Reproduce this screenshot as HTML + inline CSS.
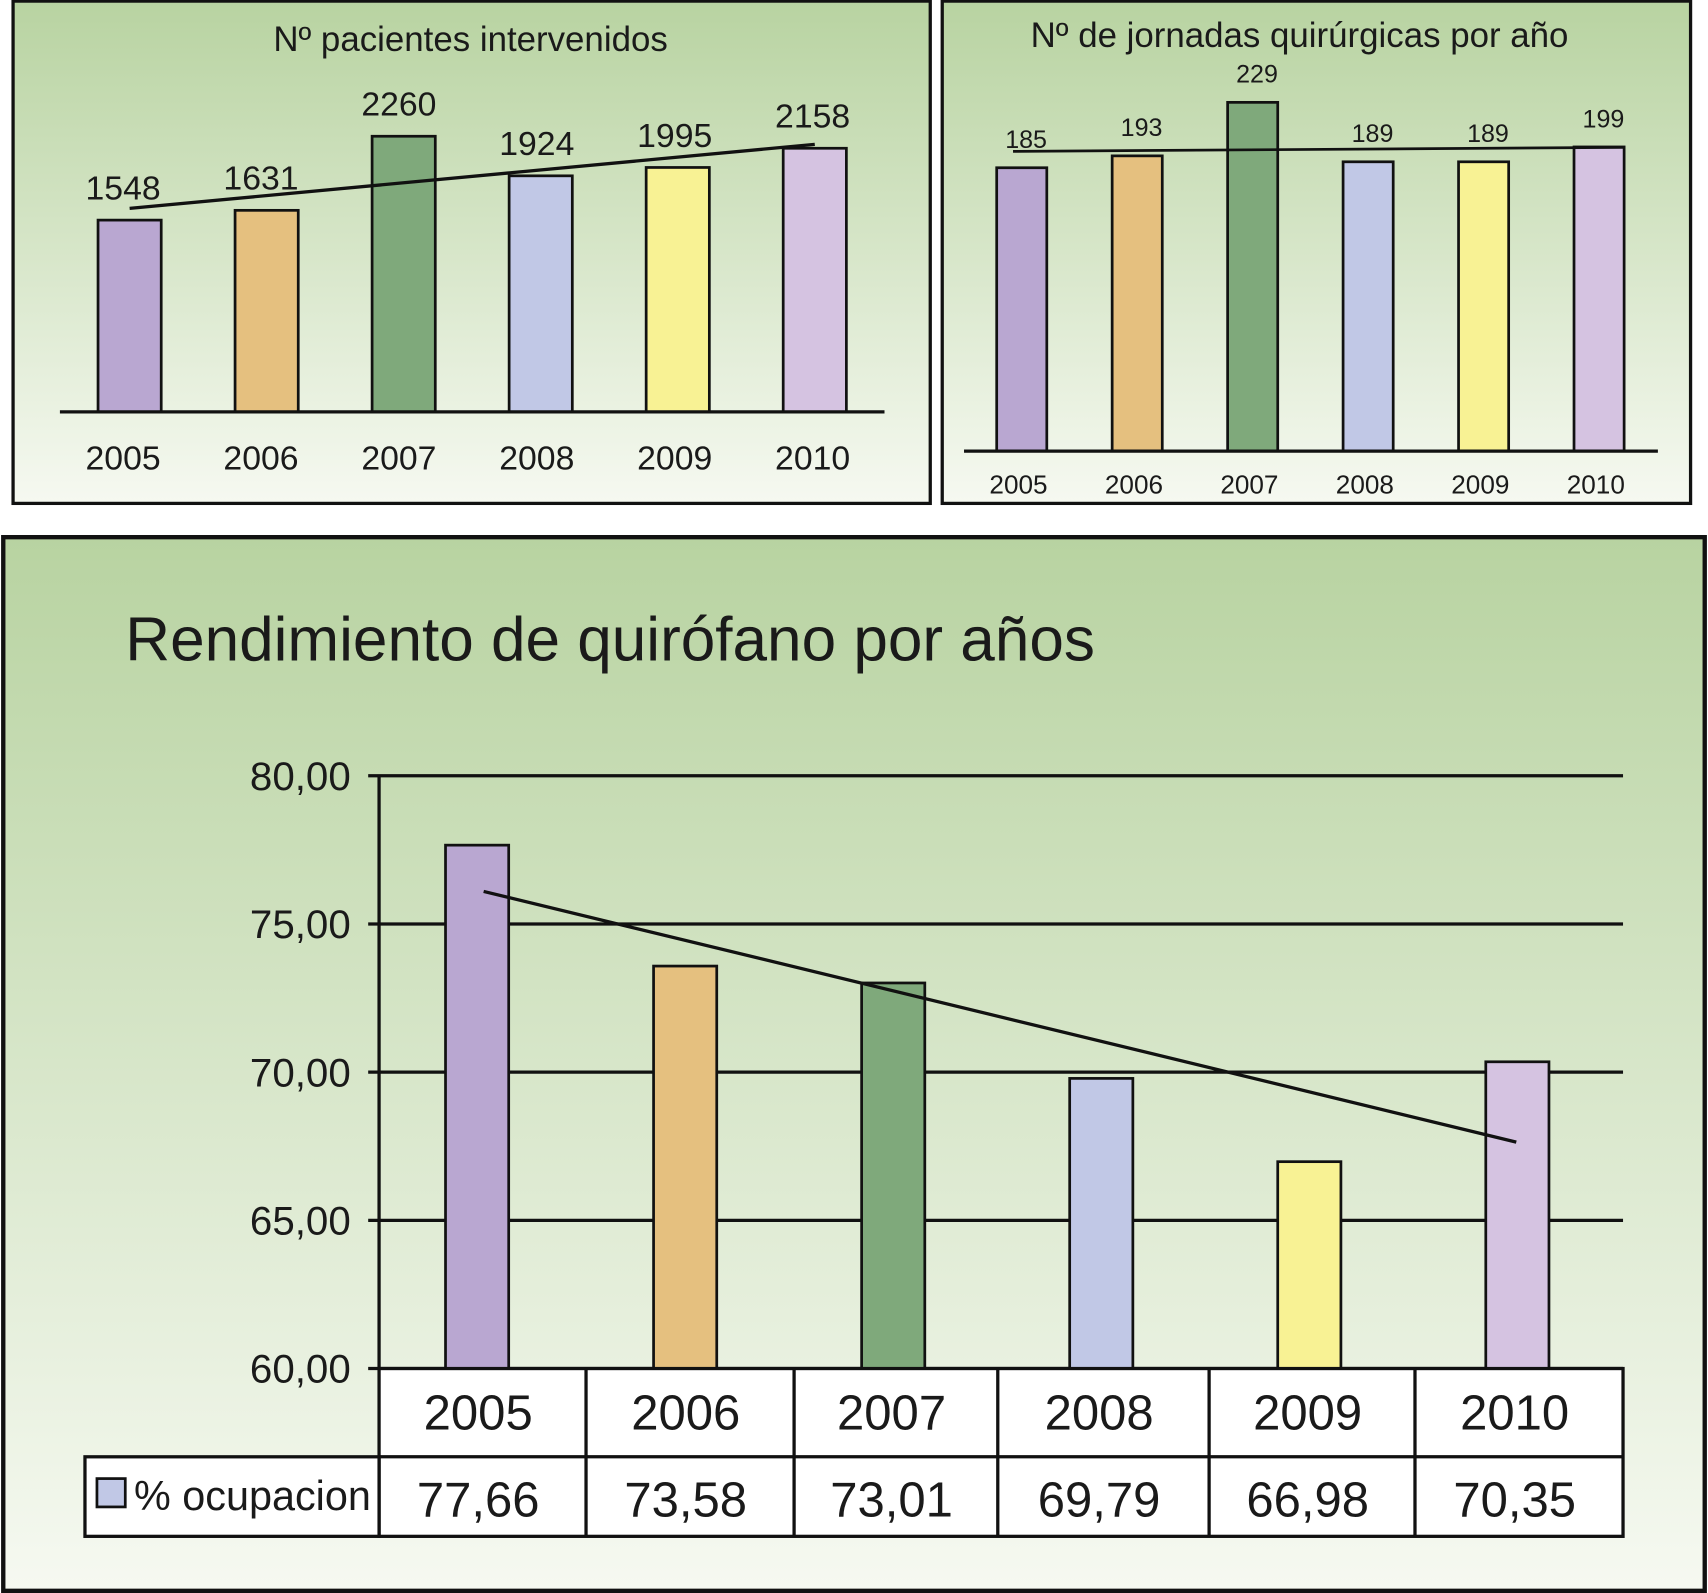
<!DOCTYPE html>
<html><head><meta charset="utf-8"><style>
html,body{margin:0;padding:0;background:#fff}
svg{display:block}
text{font-family:"Liberation Sans",sans-serif;fill:#1a1a1a}
</style></head><body>
<svg id="chart" width="1708" height="1593" viewBox="0 0 1568 1462" preserveAspectRatio="none" xmlns="http://www.w3.org/2000/svg">
<defs>
<linearGradient id="bg" x1="0" y1="0" x2="0" y2="1"><stop offset="0" stop-color="#b8d3a1"/><stop offset="1" stop-color="#f6f9f1"/></linearGradient>
</defs>
<g id="p1"></g>
<g id="p2"></g>
<g id="p3"></g>
</svg>
<script>
const years = ["2005","2006","2007","2008","2009","2010"];
const colors = ["#b9a7d1","#e5c07f","#7fa97b","#c1c8e6","#f8f294","#d5c3e1"];
const patients = [1548,1631,2260,1924,1995,2158];
const sessions = [185,193,229,189,189,199];
const occupancy = [77.66,73.58,73.01,69.79,66.98,70.35];
const occLabels = ["77,66","73,58","73,01","69,79","66,98","70,35"];
const occTicks = [60,65,70,75,80];
const occTickLabels = ["60,00","65,00","70,00","75,00","80,00"];

const NS="http://www.w3.org/2000/svg";
function mk(parent,tag,attrs,txt){const e=document.createElementNS(NS,tag);for(const k in attrs)e.setAttribute(k,attrs[k]);if(txt!==undefined)e.textContent=txt;parent.appendChild(e);return e;}
function regress(v){const n=v.length,mx=(n-1)/2;const my=v.reduce((a,b)=>a+b,0)/n;let s=0,d=0;v.forEach((y,i)=>{s+=(i-mx)*(y-my);d+=(i-mx)*(i-mx);});const b=s/d;return [my-b*mx,b];}

// Panel 1
(function(){
const g=document.getElementById('p1');
const bg=mk(g,'rect',{x:12,y:1,width:842,height:461,fill:'url(#bg)',stroke:'#111','stroke-width':3});

const t=mk(g,'text',{x:432,y:47,'font-size':32,'text-anchor':'middle'},'Nº pacientes intervenidos');

const base=378,k=0.1081,vmin=-80;
const y=v=>base-(v-vmin)*k;
const cx=i=>119+i*125.8;
const lx=i=>113+i*126.6;
patients.forEach((v,i)=>{
 const r=mk(g,'rect',{x:cx(i)-29,y:y(v),width:58,height:base-y(v),fill:colors[i],stroke:'#111','stroke-width':2.5});
 
 
 const l=mk(g,'text',{x:lx(i),y:y(v)-19,'font-size':31,'text-anchor':'middle'},String(v));
 
 
 const yl=mk(g,'text',{x:lx(i),y:431,'font-size':31,'text-anchor':'middle'},years[i]);
 
 
});
const ax=mk(g,'line',{x1:55,y1:base,x2:812,y2:base,stroke:'#111','stroke-width':3});

const [a,b]=regress(patients);
const tl=mk(g,'line',{x1:cx(0),y1:y(a),x2:cx(5),y2:y(a+5*b),stroke:'#111','stroke-width':3});

})();

// Panel 2
(function(){
const g=document.getElementById('p2');
const bg=mk(g,'rect',{x:865,y:1,width:687,height:461,fill:'url(#bg)',stroke:'#111','stroke-width':3});

const t=mk(g,'text',{x:1193,y:43,'font-size':32,'text-anchor':'middle'},'Nº de jornadas quirúrgicas por año');

const base=414,k=1.364,vmin=-5.65;
const y=v=>base-(v-vmin)*k;
const cx=i=>938+i*106;
sessions.forEach((v,i)=>{
 const r=mk(g,'rect',{x:cx(i)-23,y:y(v),width:46,height:base-y(v),fill:colors[i],stroke:'#111','stroke-width':2.5});
 
 
 const l=mk(g,'text',{x:cx(i)+4,y:y(v)-18,'font-size':23,'text-anchor':'middle'},String(v));
 
 
 const yl=mk(g,'text',{x:cx(i)-3,y:453,'font-size':24,'text-anchor':'middle'},years[i]);
 
 
});
const ax=mk(g,'line',{x1:885,y1:base,x2:1522,y2:base,stroke:'#111','stroke-width':3});

const [a,b]=regress(sessions);
const tl=mk(g,'line',{x1:930,y1:y(a-0.08*b),x2:1490,y2:y(a+5.2*b),stroke:'#111','stroke-width':2.5});

})();

// Panel 3
(function(){
const g=document.getElementById('p3');
const bg=mk(g,'rect',{x:3,y:493,width:1562,height:967,fill:'url(#bg)',stroke:'#111','stroke-width':4});

const t=mk(g,'text',{x:115,y:606,'font-size':57},'Rendimiento de quirófano por años');

const base=1256,k=27.2,vmin=60;
const y=v=>base-(v-vmin)*k;
const cols=[348,538,729,916,1110,1299,1490];
const cx=i=>(cols[i]+cols[i+1])/2;
const bx=i=>438+i*191;
occTicks.forEach((v,i)=>{
 const gl=mk(g,'line',{x1:338,y1:y(v),x2:1490,y2:y(v),stroke:'#111','stroke-width':3});
 
 
 const tl=mk(g,'text',{x:322,y:y(v)+13,'font-size':37,'text-anchor':'end'},occTickLabels[i]);
 
 
});
const ya=mk(g,'line',{x1:348,y1:712,x2:348,y2:1256,stroke:'#111','stroke-width':3});

occupancy.forEach((v,i)=>{
 const r=mk(g,'rect',{x:bx(i)-29,y:y(v),width:58,height:base-y(v),fill:colors[i],stroke:'#111','stroke-width':2.5});
 
 
});
const [a,b]=regress(occupancy);
const tr=mk(g,'line',{x1:bx(0)+6,y1:y(a+0.03*b),x2:bx(5)-1,y2:y(a+5*b),stroke:'#111','stroke-width':3});

const tb=mk(g,'rect',{x:348,y:1256,width:1142,height:154,fill:'#fff',stroke:'#111','stroke-width':3});

const lc=mk(g,'rect',{x:78,y:1337,width:270,height:73,fill:'#fff',stroke:'#111','stroke-width':3});

const rl=mk(g,'line',{x1:348,y1:1337,x2:1490,y2:1337,stroke:'#111','stroke-width':3});

for(let i=1;i<6;i++){
 const cl=mk(g,'line',{x1:cols[i],y1:1256,x2:cols[i],y2:1410,stroke:'#111','stroke-width':3});
 
 
}
years.forEach((yr,i)=>{
 const e=mk(g,'text',{x:cx(i)-4,y:1312,'font-size':45,'text-anchor':'middle'},yr);
 
 
 const v=mk(g,'text',{x:cx(i)-4,y:1392,'font-size':45,'text-anchor':'middle'},occLabels[i]);
 
 
});
const sw=mk(g,'rect',{x:89,y:1357,width:26,height:26,fill:'#c1c8e6',stroke:'#111','stroke-width':2.5});

const lt=mk(g,'text',{x:123,y:1386,'font-size':38},'% ocupacion');

})();
</script>
</body></html>
